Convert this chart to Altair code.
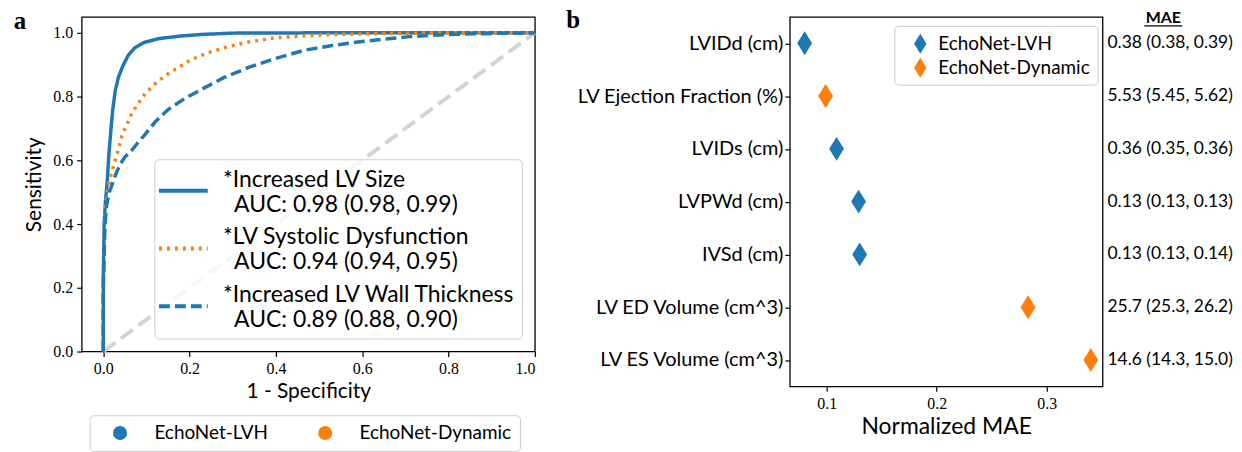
import altair as alt
import pandas as pd

BLUE = "#1f77b4"
ORANGE = "#ff7f0e"

# ---------------- panel a data ----------------
conditions = ["Increased LV Size", "LV Systolic Dysfunction", "Increased LV Wall Thickness"]
auc_labels = ["AUC: 0.98 (0.98, 0.99)", "AUC: 0.94 (0.94, 0.95)", "AUC: 0.89 (0.88, 0.90)"]

size_fpr = [0, 0, 0.002, 0.005, 0.009, 0.013, 0.018, 0.022, 0.028, 0.035, 0.045, 0.058, 0.073, 0.095, 0.13, 0.18, 0.23, 0.3, 0.5, 1.0]
size_tpr = [0, 0.22, 0.4, 0.47, 0.53, 0.62, 0.7, 0.76, 0.82, 0.86, 0.895, 0.93, 0.953, 0.97, 0.982, 0.99, 0.995, 0.999, 1.0, 1.0]

sysd_fpr = [0, 0, 0.002, 0.005, 0.01, 0.015, 0.021, 0.03, 0.044, 0.067, 0.097, 0.12, 0.143, 0.175, 0.204, 0.24, 0.28, 0.33, 0.395, 0.51, 0.65, 0.8, 1.0]
sysd_tpr = [0, 0.2, 0.36, 0.45, 0.51, 0.54, 0.57, 0.61, 0.68, 0.75, 0.81, 0.84, 0.865, 0.892, 0.916, 0.936, 0.953, 0.97, 0.984, 0.994, 0.998, 1.0, 1.0]

wall_fpr = [0, 0, 0.004, 0.008, 0.014, 0.022, 0.03, 0.04, 0.05, 0.065, 0.08, 0.096, 0.12, 0.151, 0.19, 0.227, 0.28, 0.34, 0.4, 0.465, 0.53, 0.6, 0.71, 0.8, 0.9, 1.0]
wall_tpr = [0, 0.2, 0.4, 0.46, 0.5, 0.53, 0.56, 0.59, 0.61, 0.63, 0.655, 0.68, 0.72, 0.76, 0.795, 0.822, 0.86, 0.893, 0.92, 0.945, 0.96, 0.973, 0.988, 0.995, 0.998, 1.0]

diag_x = [0, 1]
diag_y = [0, 1]

# ---------------- panel b data ----------------
measures = ["LVIDd (cm)", "LV Ejection Fraction (%)", "LVIDs (cm)", "LVPWd (cm)",
            "IVSd (cm)", "LV ED Volume (cm^3)", "LV ES Volume (cm^3)"]
norm_mae = [0.080, 0.099, 0.109, 0.129, 0.130, 0.283, 0.340]
measure_model = ["EchoNet-LVH", "EchoNet-Dynamic", "EchoNet-LVH", "EchoNet-LVH",
                 "EchoNet-LVH", "EchoNet-Dynamic", "EchoNet-Dynamic"]
mae_text = ["0.38 (0.38, 0.39)", "5.53 (5.45, 5.62)", "0.36 (0.35, 0.36)", "0.13 (0.13, 0.13)",
            "0.13 (0.13, 0.14)", "25.7 (25.3, 26.2)", "14.6 (14.3, 15.0)"]
model_names = ["EchoNet-LVH", "EchoNet-Dynamic"]

# ---------------- tables ----------------
labels = ["*" + c + "\n\u200b\u00a0\u00a0" + a for c, a in zip(conditions, auc_labels)]
rows = []
for lab, fx, fy in zip(labels, [size_fpr, sysd_fpr, wall_fpr], [size_tpr, sysd_tpr, wall_tpr]):
    for i, (a, b) in enumerate(zip(fx, fy)):
        rows.append({"label": lab, "fpr": a, "tpr": b, "idx": i})
roc_df = pd.DataFrame(rows)
diag_df = pd.DataFrame({"x": diag_x, "y": diag_y})
model_df = pd.DataFrame({"model": model_names})
mae_df = pd.DataFrame({"measure": measures, "nmae": norm_mae, "model": measure_model, "mae": mae_text})

LABEL_FONT = "Lato"
TICK_FONT = "Liberation Serif"

# ---------------- panel a ----------------
LW, LH = 455, 336
xs = alt.Scale(domain=[-0.05, 1.0], nice=False, zero=False)
ys = alt.Scale(domain=[0, 1.05], nice=False, zero=False)
x_axis = alt.Axis(values=[0, 0.2, 0.4, 0.6, 0.8, 1.0], format=".1f", title="1 - Specificity", titleFontSize=21)
y_axis = alt.Axis(values=[0, 0.2, 0.4, 0.6, 0.8, 1.0], format=".1f", title="Sensitivity", titlePadding=8,
                  titleFontSize=21)

diag = alt.Chart(diag_df).mark_line(color="#d3d3d3", strokeWidth=4, strokeDash=[15, 7]).encode(
    x=alt.X("x:Q", scale=xs, axis=x_axis),
    y=alt.Y("y:Q", scale=ys, axis=y_axis),
)

roc_legend = alt.Legend(
    title=None, orient="none", legendX=73, legendY=143, direction="vertical",
    fillColor="rgba(255,255,255,0.8)", strokeColor="#cccccc", cornerRadius=4, padding=6,
    symbolType="M-1.3,0.9L2.7,0.9", symbolSize=600, symbolStrokeWidth=4,
    labelFont=LABEL_FONT, labelFontSize=23, labelLimit=500, labelOffset=34,
    labelBaseline="middle",
    labelExpr="split(datum.label, '\\n')", rowPadding=6,
)
roc = alt.Chart(roc_df).mark_line(strokeWidth=3.5).encode(
    x=alt.X("fpr:Q", scale=xs, axis=x_axis),
    y=alt.Y("tpr:Q", scale=ys, axis=y_axis),
    color=alt.Color("label:N", scale=alt.Scale(domain=labels, range=[BLUE, ORANGE, BLUE]), legend=roc_legend),
    strokeDash=alt.StrokeDash("label:N", scale=alt.Scale(domain=labels, range=[[1, 0], [3, 5], [11, 5]]),
                              legend=roc_legend),
    order=alt.Order("idx:Q"),
)

bottom_legend = alt.Chart(model_df).mark_point(filled=True, opacity=0).encode(
    color=alt.Color("model:N", scale=alt.Scale(domain=model_names, range=[BLUE, ORANGE]),
                    legend=alt.Legend(title=None, orient="none", legendX=8, legendY=400, direction="horizontal",
                                      symbolType="circle", symbolSize=200, symbolOpacity=1, symbolOffset=13,
                                      fillColor="white", strokeColor="#cccccc", cornerRadius=4, padding=8,
                                      labelFont=LABEL_FONT, labelFontSize=19, labelOffset=25, columnPadding=34,
                                      labelLimit=300)),
)

label_a = alt.Chart(pd.DataFrame({"t": ["a"]})).mark_text(
    font=TICK_FONT, fontSize=25, fontWeight="bold", align="center", baseline="alphabetic"
).encode(x=alt.value(-62), y=alt.value(12.5), text="t:N")

left = alt.layer(diag, roc, bottom_legend, label_a).resolve_scale(
    color="independent", strokeDash="independent"
).properties(width=LW, height=LH)

# ---------------- panel b ----------------
RW, RH = 314, 371
DIAMOND = "M0,-1L0.62,0L0,1L-0.62,0Z"
xsr = alt.Scale(domain=[0.0665, 0.3507], nice=False, zero=False)
ysr = alt.Scale(domain=measures, padding=0.5)

pts = alt.Chart(mae_df).mark_point(filled=True, size=576, shape=DIAMOND, opacity=1).encode(
    x=alt.X("nmae:Q", scale=xsr, axis=alt.Axis(values=[0.1, 0.2, 0.3], format=".1f", title="Normalized MAE",
                                                titleFontSize=23)),
    y=alt.Y("measure:N", scale=ysr, sort=measures,
            axis=alt.Axis(title=None, labelFont=LABEL_FONT, labelFontSize=20, labelPadding=2, labelLimit=400)),
    color=alt.Color("model:N", scale=alt.Scale(domain=model_names, range=[BLUE, ORANGE]),
                    legend=alt.Legend(title=None, orient="none", legendX=105, legendY=9,
                                      symbolType=DIAMOND, symbolSize=400, symbolOffset=8,
                                      fillColor="rgba(255,255,255,0.8)",
                                      strokeColor="#cccccc", cornerRadius=4, padding=7,
                                      labelFont=LABEL_FONT, labelFontSize=19, labelOffset=7, rowPadding=3,
                                      labelLimit=300)),
)

mae_col = alt.Chart(mae_df).mark_text(align="left", baseline="middle", font=LABEL_FONT, fontSize=17.5).encode(
    x=alt.value(RW + 5),
    y=alt.Y("measure:N", scale=ysr, sort=measures),
    text="mae:N",
)

mae_head = alt.Chart(pd.DataFrame({"t": ["MAE"]})).mark_text(
    align="center", baseline="middle", font=LABEL_FONT, fontSize=16, fontWeight="bold"
).encode(x=alt.value(375), y=alt.value(1.5), text="t:N")

underline = alt.Chart(pd.DataFrame({"t": ["MAE"]})).mark_rule(color="black", strokeWidth=1.3).encode(
    x=alt.value(356), x2=alt.value(394), y=alt.value(9)
)

label_b = alt.Chart(pd.DataFrame({"t": ["b"]})).mark_text(
    font=TICK_FONT, fontSize=25, fontWeight="bold", align="center", baseline="alphabetic"
).encode(x=alt.value(-217.5), y=alt.value(11.5), text="t:N")

right = alt.layer(pts, mae_col, mae_head, underline, label_b).properties(width=RW, height=RH)

chart = alt.hconcat(left, right, spacing=256, bounds="flush").resolve_scale(
    color="independent"
).configure_view(
    stroke="black", strokeWidth=1.3
).configure_axis(
    domain=False, grid=False, tickColor="black", tickSize=5, tickWidth=1.2,
    labelColor="black", titleColor="black", labelFont=TICK_FONT, labelFontSize=16,
    titleFont=LABEL_FONT, titleFontSize=19, titleFontWeight="normal", labelPadding=4,
).properties(padding={"left": 5, "top": -2, "right": 0, "bottom": 0}, background="white")

chart.save("out.html", embed_options={"renderer": "svg", "actions": False})
